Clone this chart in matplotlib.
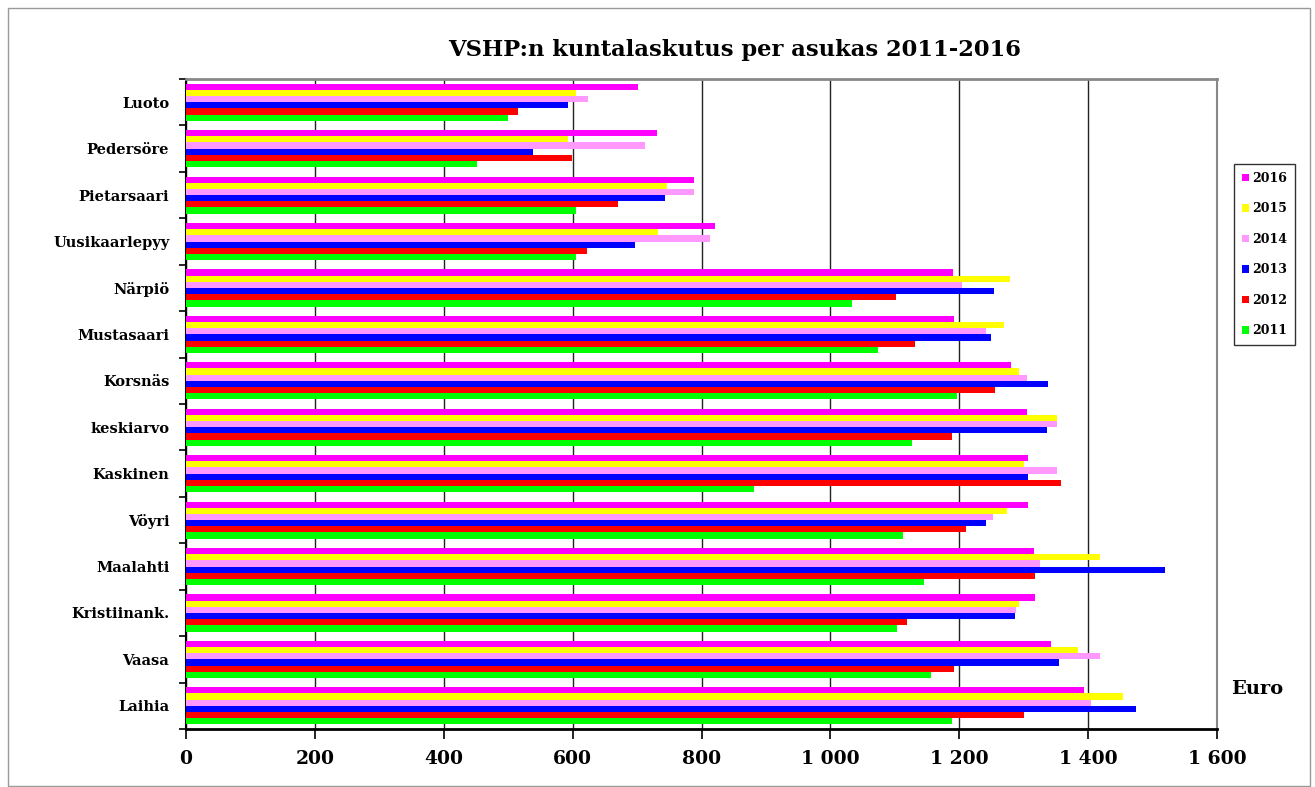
import matplotlib
matplotlib.use("Agg")
import matplotlib.pyplot as plt
from matplotlib.patches import Rectangle
from matplotlib.ticker import FuncFormatter, FixedLocator
import numpy as np

categories = ["Luoto", "Pedersöre", "Pietarsaari", "Uusikaarlepyy", "Närpiö",
              "Mustasaari", "Korsnäs", "keskiarvo", "Kaskinen", "Vöyri",
              "Maalahti", "Kristiinank.", "Vaasa", "Laihia"]
years = ["2016", "2015", "2014", "2013", "2012", "2011"]
colors = ["#FF00FF", "#FFFF00", "#FF99FF", "#0000FF", "#FF0000", "#00FF00"]

v2016 = [702, 731, 788, 821, 1190, 1192, 1281, 1305, 1307, 1306, 1316, 1318, 1343, 1394]
v2015 = [605, 593, 747, 732, 1279, 1270, 1292, 1352, 1300, 1274, 1418, 1292, 1384, 1454]
v2014 = [624, 713, 788, 813, 1205, 1242, 1305, 1352, 1352, 1252, 1326, 1288, 1418, 1404]
v2013 = [593, 538, 744, 697, 1254, 1249, 1338, 1336, 1307, 1242, 1519, 1287, 1355, 1474]
v2012 = [515, 599, 670, 622, 1102, 1132, 1255, 1189, 1358, 1211, 1318, 1119, 1192, 1300]
v2011 = [500, 452, 605, 605, 1034, 1074, 1196, 1126, 881, 1113, 1145, 1103, 1156, 1189]
series = [v2016, v2015, v2014, v2013, v2012, v2011]

xticks = [0, 200, 400, 600, 800, 1000, 1200, 1400, 1600]

W, H = 1315, 787
fig = plt.figure(figsize=(W / 100, H / 100), dpi=100)
ax = fig.add_axes([186 / W, 1 - 729 / H, (1217 - 186) / W, (729 - 79) / H])

serif = "DejaVu Serif"
n = len(series)
h = 0.8 / n
y = np.arange(len(categories))
for j, (vals, c, yr) in enumerate(zip(series, colors, years)):
    ax.barh(y + (j - (n - 1) / 2) * h, vals, height=h, color=c, label=yr,
            linewidth=0, zorder=3)

ax.set_xlim(0, 1600)
ax.set_ylim(len(categories) - 0.5, -0.5)

ax.xaxis.set_major_locator(FixedLocator(xticks))
ax.xaxis.set_major_formatter(FuncFormatter(lambda v, p: f"{int(v):,}".replace(",", " ")))
ax.grid(axis="x", color="#222222", linewidth=1, zorder=1)
ax.tick_params(axis="x", direction="out", length=7, width=1.2, pad=8,
               labelsize=13.5)
for lab in ax.get_xticklabels():
    lab.set_fontfamily(serif)
    lab.set_fontweight("bold")

ax.set_yticks(y)
ax.set_yticklabels(categories, fontfamily=serif, fontweight="bold", fontsize=10.5)
ax.tick_params(axis="y", which="major", length=0, pad=12)
ax.set_yticks(np.arange(-0.5, len(categories) + 0.5, 1), minor=True)
ax.tick_params(axis="y", which="minor", direction="out", length=5, width=1.2)

ax.spines["left"].set_color("black")
ax.spines["left"].set_linewidth(1.5)
ax.spines["bottom"].set_color("black")
ax.spines["bottom"].set_linewidth(2)
ax.spines["top"].set_color("#888888")
ax.spines["top"].set_linewidth(2)
ax.spines["right"].set_color("#888888")
ax.spines["right"].set_linewidth(1.5)

fig.text(735 / W, 1 - 50 / H, "VSHP:n kuntalaskutus per asukas 2011-2016",
         ha="center", va="center", fontfamily=serif, fontweight="bold", fontsize=16.3)
fig.text(1257 / W, 1 - 689 / H, "Euro", ha="center", va="center",
         fontfamily=serif, fontweight="bold", fontsize=14)

leg = fig.legend(loc="upper left", bbox_to_anchor=(1228 / W, 1 - 158 / H),
                 frameon=True, fancybox=False, handlelength=0.55, handleheight=0.55,
                 handletextpad=0.3, labelspacing=1.4, borderpad=0.6,
                 prop={"family": serif, "weight": "bold", "size": 9})
leg.get_frame().set_edgecolor("black")
leg.get_frame().set_linewidth(1)

fig.patches.append(Rectangle((8 / W, 1 - 786 / H), (1310 - 8) / W, (786 - 8) / H,
                             transform=fig.transFigure, fill=False,
                             edgecolor="#999999", linewidth=1))

fig.savefig("out.png", dpi=100)
